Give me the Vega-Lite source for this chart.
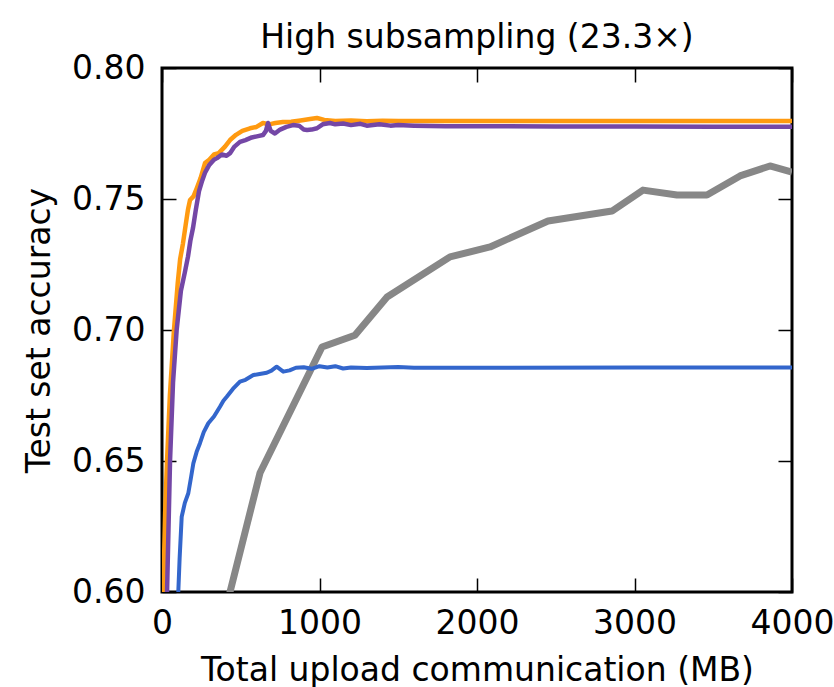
{
  "$schema": "https://vega.github.io/schema/vega-lite/v6.json",
  "width": 630,
  "height": 524,
  "autosize": "none",
  "padding": {"left": 162, "top": 68, "right": 42, "bottom": 95},
  "background": "white",
  "config": {
    "view": {"stroke": "black", "strokeWidth": 3},
    "font": "DejaVu Sans",
    "axis": {"grid": false, "domain": false, "tickColor": "black", "tickWidth": 1.5, "tickSize": -14, "labelColor": "black", "titleColor": "black", "labelFontSize": 33, "titleFontSize": 33, "titleFontWeight": "normal", "labelFlush": false, "labelOverlap": false}
  },
  "title": {"text": "High subsampling (23.3×)", "fontSize": 33, "font": "DejaVu Sans", "fontWeight": "normal", "color": "black", "offset": 18, "baseline": "alphabetic", "dy": 47},
  "data": {"values": [
    {"series": "orange", "mb": 0, "acc": 0.585},
    {"series": "orange", "mb": 8, "acc": 0.60},
    {"series": "orange", "mb": 20, "acc": 0.63},
    {"series": "orange", "mb": 32, "acc": 0.65},
    {"series": "orange", "mb": 50, "acc": 0.675},
    {"series": "orange", "mb": 76, "acc": 0.70},
    {"series": "orange", "mb": 100, "acc": 0.718},
    {"series": "orange", "mb": 115, "acc": 0.727},
    {"series": "orange", "mb": 133, "acc": 0.733},
    {"series": "orange", "mb": 150, "acc": 0.740},
    {"series": "orange", "mb": 165, "acc": 0.746},
    {"series": "orange", "mb": 178, "acc": 0.7496},
    {"series": "orange", "mb": 200, "acc": 0.751},
    {"series": "orange", "mb": 220, "acc": 0.754},
    {"series": "orange", "mb": 245, "acc": 0.758},
    {"series": "orange", "mb": 273, "acc": 0.7637},
    {"series": "orange", "mb": 300, "acc": 0.765},
    {"series": "orange", "mb": 330, "acc": 0.767},
    {"series": "orange", "mb": 360, "acc": 0.7675},
    {"series": "orange", "mb": 400, "acc": 0.770},
    {"series": "orange", "mb": 432, "acc": 0.7725},
    {"series": "orange", "mb": 470, "acc": 0.7745},
    {"series": "orange", "mb": 510, "acc": 0.776},
    {"series": "orange", "mb": 559, "acc": 0.777},
    {"series": "orange", "mb": 600, "acc": 0.7775},
    {"series": "orange", "mb": 641, "acc": 0.779},
    {"series": "orange", "mb": 680, "acc": 0.7785},
    {"series": "orange", "mb": 720, "acc": 0.779},
    {"series": "orange", "mb": 768, "acc": 0.7794},
    {"series": "orange", "mb": 820, "acc": 0.7795},
    {"series": "orange", "mb": 880, "acc": 0.780},
    {"series": "orange", "mb": 940, "acc": 0.7805},
    {"series": "orange", "mb": 984, "acc": 0.7809},
    {"series": "orange", "mb": 1030, "acc": 0.7802},
    {"series": "orange", "mb": 1100, "acc": 0.7798},
    {"series": "orange", "mb": 1200, "acc": 0.7800},
    {"series": "orange", "mb": 1300, "acc": 0.7797},
    {"series": "orange", "mb": 1400, "acc": 0.7799},
    {"series": "orange", "mb": 1500, "acc": 0.7798},
    {"series": "orange", "mb": 1700, "acc": 0.7798},
    {"series": "orange", "mb": 2000, "acc": 0.7798},
    {"series": "orange", "mb": 3000, "acc": 0.7798},
    {"series": "orange", "mb": 4000, "acc": 0.7798},
    {"series": "purple", "mb": 15, "acc": 0.565},
    {"series": "purple", "mb": 32, "acc": 0.60},
    {"series": "purple", "mb": 51, "acc": 0.65},
    {"series": "purple", "mb": 70, "acc": 0.68},
    {"series": "purple", "mb": 93, "acc": 0.70},
    {"series": "purple", "mb": 120, "acc": 0.715},
    {"series": "purple", "mb": 145, "acc": 0.722},
    {"series": "purple", "mb": 165, "acc": 0.728},
    {"series": "purple", "mb": 180, "acc": 0.734},
    {"series": "purple", "mb": 197, "acc": 0.739},
    {"series": "purple", "mb": 215, "acc": 0.746},
    {"series": "purple", "mb": 235, "acc": 0.753},
    {"series": "purple", "mb": 255, "acc": 0.757},
    {"series": "purple", "mb": 273, "acc": 0.760},
    {"series": "purple", "mb": 300, "acc": 0.763},
    {"series": "purple", "mb": 330, "acc": 0.765},
    {"series": "purple", "mb": 349, "acc": 0.7656},
    {"series": "purple", "mb": 380, "acc": 0.767},
    {"series": "purple", "mb": 410, "acc": 0.7665},
    {"series": "purple", "mb": 432, "acc": 0.7675},
    {"series": "purple", "mb": 460, "acc": 0.770},
    {"series": "purple", "mb": 495, "acc": 0.7718},
    {"series": "purple", "mb": 530, "acc": 0.7725},
    {"series": "purple", "mb": 570, "acc": 0.7735},
    {"series": "purple", "mb": 610, "acc": 0.774},
    {"series": "purple", "mb": 641, "acc": 0.7744},
    {"series": "purple", "mb": 660, "acc": 0.776},
    {"series": "purple", "mb": 673, "acc": 0.779},
    {"series": "purple", "mb": 690, "acc": 0.776},
    {"series": "purple", "mb": 717, "acc": 0.775},
    {"series": "purple", "mb": 750, "acc": 0.7765},
    {"series": "purple", "mb": 790, "acc": 0.7775},
    {"series": "purple", "mb": 832, "acc": 0.7782},
    {"series": "purple", "mb": 870, "acc": 0.778},
    {"series": "purple", "mb": 900, "acc": 0.7765},
    {"series": "purple", "mb": 921, "acc": 0.7763},
    {"series": "purple", "mb": 950, "acc": 0.7765},
    {"series": "purple", "mb": 984, "acc": 0.777},
    {"series": "purple", "mb": 1020, "acc": 0.7785},
    {"series": "purple", "mb": 1067, "acc": 0.779},
    {"series": "purple", "mb": 1100, "acc": 0.7785},
    {"series": "purple", "mb": 1150, "acc": 0.7788},
    {"series": "purple", "mb": 1200, "acc": 0.7782},
    {"series": "purple", "mb": 1260, "acc": 0.7787},
    {"series": "purple", "mb": 1300, "acc": 0.778},
    {"series": "purple", "mb": 1380, "acc": 0.7785},
    {"series": "purple", "mb": 1450, "acc": 0.778},
    {"series": "purple", "mb": 1500, "acc": 0.7782},
    {"series": "purple", "mb": 1600, "acc": 0.778},
    {"series": "purple", "mb": 1800, "acc": 0.7778},
    {"series": "purple", "mb": 2000, "acc": 0.7778},
    {"series": "purple", "mb": 2500, "acc": 0.7777},
    {"series": "purple", "mb": 3000, "acc": 0.7777},
    {"series": "purple", "mb": 3500, "acc": 0.7776},
    {"series": "purple", "mb": 4000, "acc": 0.7776},
    {"series": "blue", "mb": 90, "acc": 0.58},
    {"series": "blue", "mb": 104, "acc": 0.6008},
    {"series": "blue", "mb": 112, "acc": 0.613},
    {"series": "blue", "mb": 125, "acc": 0.6287},
    {"series": "blue", "mb": 145, "acc": 0.634},
    {"series": "blue", "mb": 167, "acc": 0.6377},
    {"series": "blue", "mb": 185, "acc": 0.644},
    {"series": "blue", "mb": 199, "acc": 0.6491},
    {"series": "blue", "mb": 220, "acc": 0.6535},
    {"series": "blue", "mb": 241, "acc": 0.6568},
    {"series": "blue", "mb": 265, "acc": 0.661},
    {"series": "blue", "mb": 294, "acc": 0.6644},
    {"series": "blue", "mb": 330, "acc": 0.667},
    {"series": "blue", "mb": 368, "acc": 0.6707},
    {"series": "blue", "mb": 390, "acc": 0.673},
    {"series": "blue", "mb": 411, "acc": 0.6745},
    {"series": "blue", "mb": 450, "acc": 0.6775},
    {"series": "blue", "mb": 495, "acc": 0.6803},
    {"series": "blue", "mb": 530, "acc": 0.681},
    {"series": "blue", "mb": 580, "acc": 0.6828},
    {"series": "blue", "mb": 620, "acc": 0.6832},
    {"series": "blue", "mb": 665, "acc": 0.6837},
    {"series": "blue", "mb": 695, "acc": 0.6845},
    {"series": "blue", "mb": 728, "acc": 0.686},
    {"series": "blue", "mb": 770, "acc": 0.6841},
    {"series": "blue", "mb": 810, "acc": 0.6846},
    {"series": "blue", "mb": 850, "acc": 0.6856},
    {"series": "blue", "mb": 900, "acc": 0.6858},
    {"series": "blue", "mb": 950, "acc": 0.6852},
    {"series": "blue", "mb": 1000, "acc": 0.6862},
    {"series": "blue", "mb": 1050, "acc": 0.6857},
    {"series": "blue", "mb": 1100, "acc": 0.6862},
    {"series": "blue", "mb": 1150, "acc": 0.6853},
    {"series": "blue", "mb": 1200, "acc": 0.6857},
    {"series": "blue", "mb": 1300, "acc": 0.6855},
    {"series": "blue", "mb": 1400, "acc": 0.6857},
    {"series": "blue", "mb": 1500, "acc": 0.6859},
    {"series": "blue", "mb": 1600, "acc": 0.6856},
    {"series": "blue", "mb": 2000, "acc": 0.6856},
    {"series": "blue", "mb": 3000, "acc": 0.6857},
    {"series": "blue", "mb": 4000, "acc": 0.6857},
    {"series": "gray", "mb": 400, "acc": 0.5924},
    {"series": "gray", "mb": 622, "acc": 0.6454},
    {"series": "gray", "mb": 1016, "acc": 0.6935},
    {"series": "gray", "mb": 1225, "acc": 0.698},
    {"series": "gray", "mb": 1429, "acc": 0.7126},
    {"series": "gray", "mb": 1829, "acc": 0.7279},
    {"series": "gray", "mb": 2083, "acc": 0.7317},
    {"series": "gray", "mb": 2451, "acc": 0.7416},
    {"series": "gray", "mb": 2857, "acc": 0.7454},
    {"series": "gray", "mb": 3054, "acc": 0.7534},
    {"series": "gray", "mb": 3270, "acc": 0.7515},
    {"series": "gray", "mb": 3460, "acc": 0.7515},
    {"series": "gray", "mb": 3670, "acc": 0.7588},
    {"series": "gray", "mb": 3860, "acc": 0.7626},
    {"series": "gray", "mb": 4000, "acc": 0.7603}
  ]},
  "encoding": {
    "x": {"field": "mb", "type": "quantitative", "scale": {"domain": [0, 4000], "nice": false, "zero": false}},
    "y": {"field": "acc", "type": "quantitative", "scale": {"domain": [0.6, 0.8], "nice": false, "zero": false}}
  },
  "layer": [
    {
      "transform": [{"filter": "datum.series == 'gray'"}],
      "mark": {"type": "line", "clip": true, "strokeJoin": "round", "color": "#878787", "strokeWidth": 7},
      "encoding": {
        "x": {"field": "mb", "type": "quantitative",
          "axis": {"orient": "bottom", "values": [0, 1000, 2000, 3000, 4000], "format": "d", "labelPadding": 55, "labelBaseline": "alphabetic", "title": "Total upload communication (MB)", "titleY": 88, "titleBaseline": "alphabetic"}},
        "y": {"field": "acc", "type": "quantitative",
          "axis": {"orient": "left", "values": [0.6, 0.65, 0.7, 0.75, 0.8], "format": ".2f", "labelPadding": 31, "labelBaseline": "middle", "title": "Test set accuracy", "titleX": -113, "titleY": 262, "titleBaseline": "alphabetic", "titleAlign": "center", "titleAngle": -90}}
      }
    },
    {
      "transform": [{"filter": "datum.series == 'blue'"}],
      "mark": {"type": "line", "clip": true, "strokeJoin": "round", "color": "#3366cc", "strokeWidth": 4},
      "encoding": {
        "x": {"field": "mb", "type": "quantitative", "axis": {"orient": "top", "values": [0, 1000, 2000, 3000, 4000], "labels": false, "title": null}},
        "y": {"field": "acc", "type": "quantitative", "axis": {"orient": "right", "values": [0.6, 0.65, 0.7, 0.75, 0.8], "labels": false, "title": null}}
      }
    },
    {
      "transform": [{"filter": "datum.series == 'orange'"}],
      "mark": {"type": "line", "clip": true, "strokeJoin": "round", "color": "#ff9a10", "strokeWidth": 4.5},
      "encoding": {
        "x": {"field": "mb", "type": "quantitative", "axis": null},
        "y": {"field": "acc", "type": "quantitative", "axis": null}
      }
    },
    {
      "transform": [{"filter": "datum.series == 'purple'"}],
      "mark": {"type": "line", "clip": true, "strokeJoin": "round", "color": "#7447a6", "strokeWidth": 4.5},
      "encoding": {
        "x": {"field": "mb", "type": "quantitative", "axis": null},
        "y": {"field": "acc", "type": "quantitative", "axis": null}
      }
    }
  ],
  "resolve": {"axis": {"x": "independent", "y": "independent"}}
}
